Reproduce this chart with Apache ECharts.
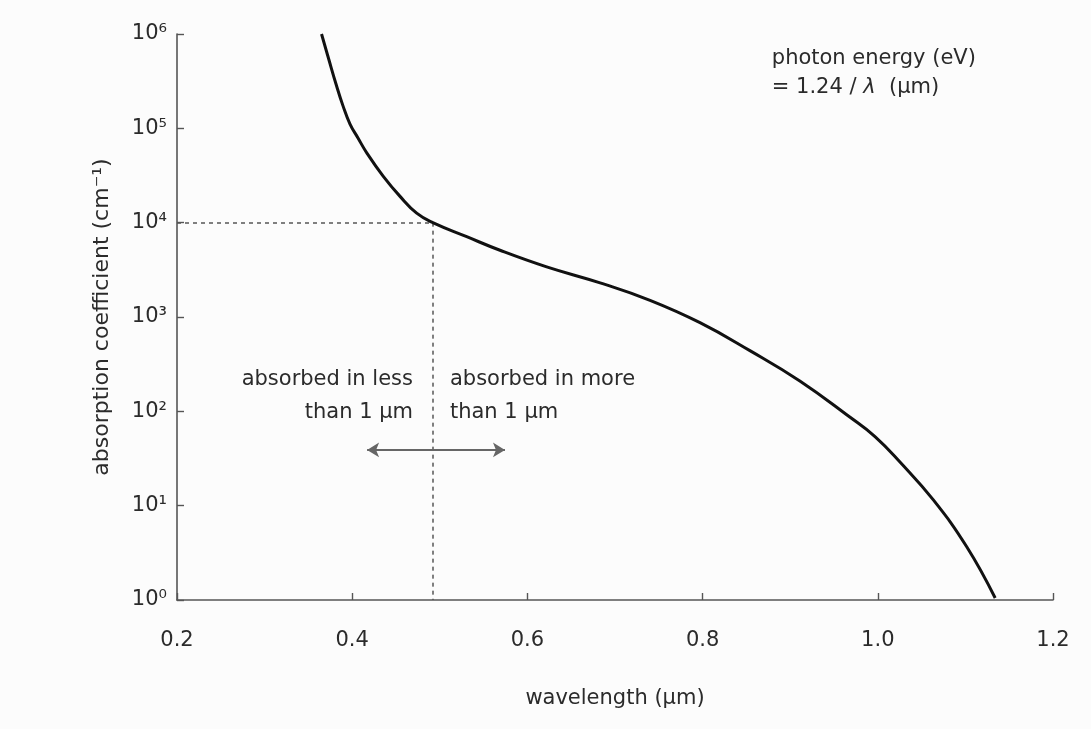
<!DOCTYPE html>
<html>
<head>
<meta charset="utf-8">
<title>Absorption coefficient vs wavelength</title>
<script src="https://cdn.jsdelivr.net/npm/echarts@6/dist/echarts.min.js"></script>
<style>
  html, body { margin: 0; padding: 0; background: #fcfcfc; }
  #chart { width: 1091px; height: 729px; }
</style>
</head>
<body>
<div id="chart"></div>
<script>
// Wavelength (µm) of each sampled point on the absorption curve
const wavelength = [0.365, 0.3735, 0.3815, 0.3895, 0.3975, 0.4066, 0.4166, 0.4355, 0.4546,
                    0.4736, 0.492, 0.5307, 0.5687, 0.622, 0.683, 0.740, 0.797, 0.854,
                    0.911, 0.968, 0.9968, 1.0253, 1.0634, 1.1015, 1.134];
// Absorption coefficient (cm^-1) at those wavelengths
const absorption = [1.0e6, 5.3e5, 2.95e5, 1.73e5, 1.11e5, 7.9e4, 5.5e4, 3.1e4, 1.9e4,
                    1.26e4, 1.0e4, 7.1e3, 5.1e3, 3.4e3, 2.3e3, 1.5e3, 8.7e2, 4.4e2,
                    2.1e2, 8.7e1, 5.4e1, 2.9e1, 1.15e1, 3.67, 1.05];

// Axis tick labels
const xTickLabels = ['0.2', '0.4', '0.6', '0.8', '1.0', '1.2'];
const yTickLabels = ['10\u2070', '10\u00b9', '10\u00b2', '10\u00b3', '10\u2074', '10\u2075', '10\u2076'];

// Threshold: 1 µm absorption depth corresponds to 10^4 cm^-1
const thresholdWavelength = [0.492];
const thresholdCoefficient = [1.0e4];

// Double-headed arrow under the two region captions (start/end wavelength, level)
const arrowWavelength = [0.417, 0.5744];
const arrowLevel = [39];

const FONT = 'DejaVu Sans';
const TEXT = '#2b2b2b';
const AXIS = '#555';

const curve = wavelength.map((w, i) => [w, absorption[i]]);

const chart = echarts.init(document.getElementById('chart'), null, { renderer: 'canvas' });

const noteLabel = {
  fontFamily: FONT, fontSize: 21, color: TEXT, textBorderWidth: 0
};

chart.setOption({
  backgroundColor: '#fcfcfc',
  animation: false,
  grid: { left: 177, right: 38, top: 34, bottom: 129, containLabel: false },
  xAxis: {
    type: 'value',
    min: 0.2, max: 1.2, interval: 0.2,
    name: 'wavelength (\u03bcm)',
    nameLocation: 'middle',
    nameGap: 88,
    nameTextStyle: { fontFamily: FONT, fontSize: 21, color: TEXT },
    axisLine: { lineStyle: { color: AXIS, width: 1.6 } },
    axisTick: { inside: true, length: 7, lineStyle: { color: AXIS, width: 1.4 } },
    splitLine: { show: false },
    axisLabel: {
      margin: 30,
      fontFamily: FONT, fontSize: 21, color: TEXT,
      formatter: v => xTickLabels[Math.round((v - 0.2) / 0.2)]
    }
  },
  yAxis: {
    type: 'log', logBase: 10,
    min: 1, max: 1e6, splitNumber: 6,
    name: 'absorption coefficient (cm\u207b\u00b9)',
    nameLocation: 'middle',
    nameGap: 64,
    nameRotate: 90,
    nameTextStyle: { fontFamily: FONT, fontSize: 22, color: TEXT },
    axisLine: { lineStyle: { color: AXIS, width: 1.6 } },
    axisTick: { inside: true, length: 7, lineStyle: { color: AXIS, width: 1.4 } },
    minorTick: { show: false },
    splitLine: { show: false },
    axisLabel: {
      margin: 10,
      padding: [14, 0, 0, 0],
      fontFamily: FONT, fontSize: 21, color: TEXT,
      formatter: v => yTickLabels[Math.round(Math.log10(v))]
    }
  },
  series: [
    {
      name: 'absorption',
      type: 'line',
      data: curve,
      smooth: 0.45,
      showSymbol: false,
      lineStyle: { color: '#111', width: 3 },
      z: 5,
      markLine: {
        silent: true,
        symbol: ['none', 'none'],
        label: { show: false },
        lineStyle: { color: '#555', width: 1.5, type: [4, 4] },
        data: [
          [ { coord: [0.2, thresholdCoefficient[0]] }, { coord: [thresholdWavelength[0], thresholdCoefficient[0]] } ],
          [ { coord: [thresholdWavelength[0], thresholdCoefficient[0]] }, { coord: [thresholdWavelength[0], 1] } ]
        ]
      }
    },
    {
      name: 'arrow',
      type: 'line',
      data: [],
      markLine: {
        silent: true,
        symbol: ['arrow', 'arrow'],
        symbolSize: [11, 12],
        label: { show: false },
        lineStyle: { color: '#666', width: 2, type: 'solid' },
        itemStyle: { color: '#333' },
        data: [
          [ { coord: [arrowWavelength[0], arrowLevel[0]] }, { coord: [arrowWavelength[1], arrowLevel[0]] } ]
        ]
      }
    },
    {
      name: 'notes',
      type: 'scatter',
      symbolSize: 0,
      silent: true,
      itemStyle: { color: TEXT, opacity: 1 },
      z: 6,
      data: [
        {
          value: [0.4694, 145],
          label: Object.assign({
            show: true, position: 'left', distance: 0, align: 'right', verticalAlign: 'middle',
            lineHeight: 33,
            formatter: 'absorbed in less\nthan 1 \u03bcm'
          }, noteLabel)
        },
        {
          value: [0.5116, 145],
          label: Object.assign({
            show: true, position: 'right', distance: 0, align: 'left', verticalAlign: 'middle',
            lineHeight: 33,
            formatter: 'absorbed in more\nthan 1 \u03bcm'
          }, noteLabel)
        },
        {
          value: [0.879, 3.9e5],
          label: Object.assign({
            show: true, position: 'right', distance: 0, align: 'left', verticalAlign: 'middle',
            lineHeight: 29,
            formatter: 'photon energy (eV)\n= 1.24 / {i|\u03bb}  (\u03bcm)',
            rich: {
              i: { fontFamily: FONT, fontSize: 21, fontStyle: 'italic', color: TEXT, lineHeight: 29 }
            }
          }, noteLabel)
        }
      ]
    }
  ]
});
</script>
</body>
</html>
